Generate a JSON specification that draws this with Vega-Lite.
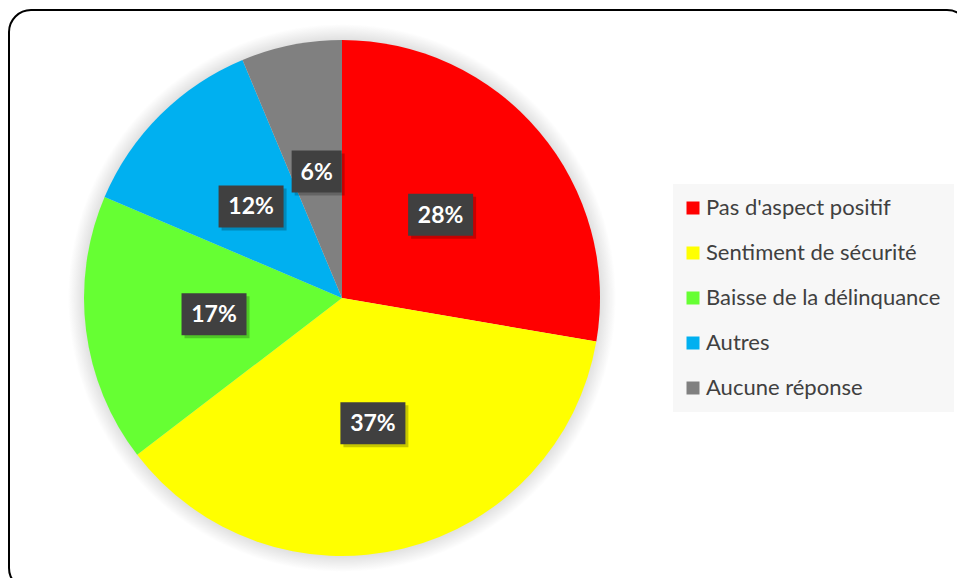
{
  "$schema": "https://vega.github.io/schema/vega-lite/v6.json",
  "width": 960,
  "height": 580,
  "padding": {"left": 9, "top": 10, "right": 0, "bottom": 0},
  "background": "white",
  "config": {
    "view": {"stroke": "#000000", "strokeWidth": 2, "cornerRadius": 22},
    "font": "Lato"
  },
  "data": {
    "values": [
      {"order": 1, "category": "Pas d'aspect positif", "value": 27.7},
      {"order": 2, "category": "Sentiment de sécurité", "value": 36.9},
      {"order": 3, "category": "Baisse de la délinquance", "value": 16.8},
      {"order": 4, "category": "Autres", "value": 12.3},
      {"order": 5, "category": "Aucune réponse", "value": 6.3}
    ]
  },
  "transform": [
    {"window": [{"op": "sum", "field": "value", "as": "cum"}], "sort": [{"field": "order"}], "frame": [null, 0]},
    {"joinaggregate": [{"op": "sum", "field": "value", "as": "total"}]},
    {"calculate": "(datum.cum - datum.value / 2) / datum.total * 2 * PI", "as": "mid"},
    {"calculate": "0.5 * sin(datum.mid)", "as": "lx"},
    {"calculate": "0.5 * cos(datum.mid)", "as": "ly"},
    {"calculate": "format(round(datum.value), 'd') + '%'", "as": "label"}
  ],
  "encoding": {
    "x": {"type": "quantitative", "scale": {"domain": [-1.2907, 2.4302], "nice": false, "zero": false}, "axis": null},
    "y": {"type": "quantitative", "scale": {"domain": [-1.1318, 1.1163], "nice": false, "zero": false}, "axis": null}
  },
  "layer": [
    {
      "transform": [{"filter": "datum.order == 1"}],
      "mark": {
        "type": "arc",
        "outerRadius": 274,
        "theta": 6.2832,
        "stroke": null,
        "fill": {
          "gradient": "radial",
          "x1": 0.5, "y1": 0.5, "r1": 0.47,
          "x2": 0.5, "y2": 0.5, "r2": 0.5,
          "stops": [
            {"offset": 0, "color": "#e0e0e0"},
            {"offset": 1, "color": "#ffffff"}
          ]
        }
      },
      "encoding": {
        "x": {"datum": 0, "type": "quantitative"},
        "y": {"datum": 0, "type": "quantitative"}
      }
    },
    {
      "mark": {"type": "arc", "outerRadius": 258, "stroke": null},
      "encoding": {
        "x": {"datum": 0, "type": "quantitative"},
        "y": {"datum": 0, "type": "quantitative"},
        "theta": {"field": "value", "type": "quantitative", "stack": true},
        "order": {"field": "order", "type": "quantitative"},
        "color": {
          "field": "category",
          "type": "nominal",
          "scale": {
            "domain": ["Pas d'aspect positif", "Sentiment de sécurité", "Baisse de la délinquance", "Autres", "Aucune réponse"],
            "range": ["#FF0000", "#FFFF00", "#66FF33", "#00B0F0", "#808080"]
          },
          "legend": {
            "title": null,
            "orient": "none",
            "legendX": 664,
            "legendY": 174,
            "fillColor": "#F7F7F7",
            "padding": 13,
            "symbolType": "square",
            "symbolSize": 169,
            "symbolStrokeWidth": 0,
            "symbolOpacity": 1,
            "symbolOffset": -4,
            "labelFont": "Lato",
            "labelFontSize": 22,
            "labelColor": "#404040",
            "labelOffset": 2,
            "labelLimit": 400,
            "rowPadding": 23
          }
        }
      }
    },
    {
      "mark": {"type": "point", "filled": true, "size": 4, "fill": "#000000", "opacity": 0.22, "strokeWidth": 0},
      "encoding": {
        "x": {"field": "lx"},
        "y": {"field": "ly"},
        "shape": {"condition": {"test": "datum.value < 10", "value": "M-22,-18H28V24H-22Z"}, "value": "M-29.5,-18H35.5V24H-29.5Z"}
      }
    },
    {
      "mark": {"type": "point", "filled": true, "size": 4, "fill": "#404040", "opacity": 1, "strokeWidth": 0},
      "encoding": {
        "x": {"field": "lx"},
        "y": {"field": "ly"},
        "shape": {"condition": {"test": "datum.value < 10", "value": "M-25,-21H25V21H-25Z"}, "value": "M-32.5,-21H32.5V21H-32.5Z"}
      }
    },
    {
      "mark": {"type": "text", "font": "Lato", "fontSize": 23, "fontWeight": "bold", "color": "#FFFFFF", "baseline": "middle", "align": "center", "dy": 1},
      "encoding": {
        "x": {"field": "lx"},
        "y": {"field": "ly"},
        "text": {"field": "label"}
      }
    }
  ]
}
